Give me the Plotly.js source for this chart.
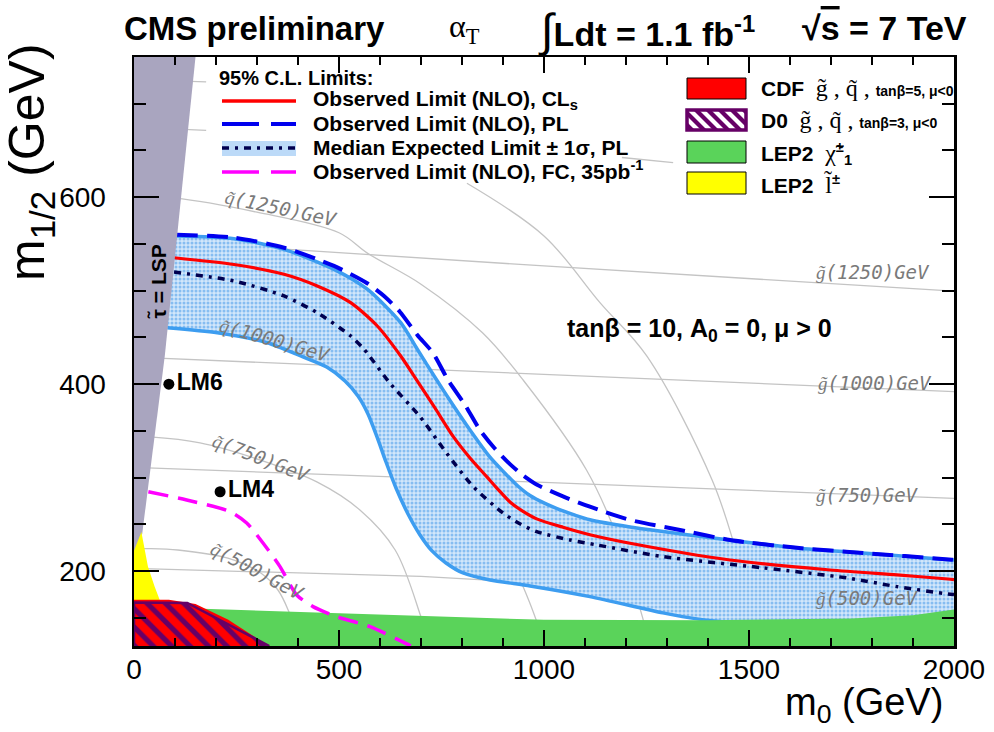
<!DOCTYPE html>
<html><head><meta charset="utf-8">
<script src="https://cdn.plot.ly/plotly-3.0.1.min.js"></script>
<style>html,body{margin:0;padding:0;background:#fff;}#chart{width:994px;height:732px;}</style>
</head><body><div id="chart"></div>
<script>
// ---------------- DATA (m0, m1/2 in GeV) ----------------
// iso-mass contours
const g500M0 = [0, 700, 1000, 2000],  g500M12 = [203, 194.5, 187, 178];
const g750M0 = [0, 700, 1000, 2000],  g750M12 = [311, 300, 295, 278];
const g1000M0 = [0, 1000, 2000],      g1000M12 = [429, 410.5, 392];
const g1250M0 = [0, 1000, 2000],      g1250M12 = [555, 526.5, 499.5];
const g1500M0 = [0, 176, null, 1190, 1315], g1500M12 = [675, 671.5, null, 642.5, 637];
const q500M0 = [0, 18, 107, 229, 310, 351, 376, 405];
const q500M12 = [225, 224.5, 222.7, 213.9, 197.8, 179.9, 158.5, 120];
const q750M0 = [0, 39, 161, 307, 446, 551, 637, 700, 722];
const q750M12 = [344, 343.6, 337.2, 319, 295.5, 265.5, 222.7, 151, 120];
const q1000M0 = [0, 78, 210, 356, 454, 576, 700, 800, 900, 960, 1003];
const q1000M12 = [472, 471, 463.4, 447.3, 428, 386, 330, 285, 228, 172, 120];
const q1250M0 = [0, 100, 300, 500, 570, 700, 850, 950, 1104, 1180, 1242, 1258];
const q1250M12 = [600, 599, 584, 562, 540, 507, 455, 404, 308, 235, 148, 120];
const q1500M0 = [100, 176, null, 812, 1000, 1137, 1251, 1410, 1470, 1519, 1539];
const q1500M12 = [724.5, 723.5, null, 615, 558.6, 487, 430, 297.6, 220, 148, 120];

// excluded / limit regions
const stauM0 = [0, 150, 75, 34, 20, 0];
const stauM12 = [750, 750, 430, 290, 240, 218];
const lepSleptonM0 = [0, 0, 18, 34, 50, 63];
const lepSleptonM12 = [169, 222, 242, 205, 184, 169];
const cdfM0 = [0, 0, 85, 150, 230, 300, 322];
const cdfM12 = [120, 169.5, 169.5, 165, 148, 128, 120];
const d0M0 = [0, 0, 130, 200, 260, 300, 330];
const d0M12 = [120, 166.5, 166, 150, 136, 127, 120];
const lepCharginoM0 = [0, 0, 150, 720, 1000, 1400, 1750, 1900, 2000, 2000];
const lepCharginoM12 = [120, 162, 160, 151.5, 148, 147.5, 149.5, 153, 159, 120];

// expected +-1 sigma band
const bandUpM0 = [101.7, 243.9, 365.9, 487.8, 569, 650.5, 691, 738.3, 778, 819.5, 868.3, 900, 934.1, 965.9, 1002.4, 1031.7, 1075.6, 1112.2, 1209.8, 1412.2, 1617.1, 1778, 1995, 2000];
const bandUpM12 = [558.6, 555.7, 544.3, 522.9, 501.6, 465.8, 437.4, 404.5, 377.8, 351.1, 322, 307, 292, 281, 272.5, 267, 260, 255, 247.3, 235.6, 224.9, 219.5, 212, 212];
const bandLoM0 = [81.2, 203.2, 325.1, 406.6, 470, 514.6, 546.3, 570.7, 592.7, 614.6, 639, 668.3, 697.6, 726.8, 761, 802.4, 868.3, 966, 1112, 1290, 1373, 1600, 2000];
const bandLoM12 = [460.5, 455.1, 444.4, 430.2, 418.4, 403.5, 387.4, 368.2, 343.6, 316.8, 289, 261.2, 238.8, 221.7, 208.8, 198.1, 190.6, 184.2, 172.8, 155.4, 149, 140, 135];
// limit curves
const expM0 = [97.6, 243.9, 365.9, 447, 528.5, 561, 624.4, 697.6, 762.7, 827.6, 900.7, 940, 982.2, 1063.4, 1129, 1290, 1534, 1739, 1861, 1985, 2000];
const expM12 = [520, 510.4, 494.4, 476.5, 451.6, 437.4, 401, 365.3, 326.2, 290.4, 262, 251, 242.3, 233.4, 228.1, 215.6, 203.6, 192.8, 183.5, 175.7, 175];
const clsM0 = [97.6, 243.9, 365.9, 447, 528.5, 593.4, 650.5, 689.5, 734, 778.8, 819.5, 860.2, 887.8, 917, 948.8, 982.2, 1046.3, 1112, 1209.8, 1453.7, 1697.6, 1861, 1985.4, 2000];
const clsM12 = [535.3, 528.1, 517.6, 505.1, 487.2, 462.3, 430.2, 404.5, 374.6, 343.9, 321.1, 301.1, 287.5, 274, 264, 256, 247, 239, 229.9, 212, 201.3, 196, 191.7, 191];
const plM0 = [104, 243.9, 365.9, 487.8, 567.6, 609.8, 648.8, 691, 729.3, 765.9, 807.3, 843.9, 880.5, 917, 948.8, 982.9, 1046.3, 1112, 1209.8, 1331.7, 1453.7, 1617, 1778, 1995, 2000];
const plM12 = [560, 556.7, 546, 526.5, 508.3, 494.4, 477.3, 452.7, 433.4, 404.5, 377.8, 351, 331, 314.5, 302.5, 292.5, 280, 269, 254.8, 244.1, 233.4, 225, 219.5, 212.3, 212];
const fcM0 = [35, 128.5, 234.1, 274.9, 314.6, 356.1, 396.8, 436.6, 494.4, 575.6, 665.1, 675];
const fcM12 = [285, 276.2, 263.7, 251.6, 230.2, 204.9, 174.6, 162.1, 151.4, 140.7, 122.2, 120];
// benchmark points
const lmNames = ['LM6', 'LM4'];
const lmM0 = [85, 210];
const lmM12 = [400, 285];

// ---------------- STYLE ----------------
const FONT = 'Liberation Sans, Arial, Helvetica, sans-serif';
const MONO = 'DejaVu Sans Mono, monospace';
const SERIF = 'Liberation Serif, Times New Roman, serif';
const L = 134, T = 57, W = 820, H = 589;
const px = v => (v - L) / W, py = v => (T + H - v) / H;

function iso(x, y, shape) {
  return {x: x, y: y, type: 'scatter', mode: 'lines', hoverinfo: 'skip', showlegend: false,
    line: {color: '#c4c4c4', width: 1.3, shape: shape || 'linear', smoothing: 1}};
}
function curve(x, y, color, width, dash) {
  return {x: x, y: y, type: 'scatter', mode: 'lines', hoverinfo: 'skip', showlegend: false,
    line: {color: color, width: width, dash: dash || 'solid', shape: 'spline', smoothing: 0.7}};
}
function area(x, y, color, extra) {
  return Object.assign({x: x, y: y, type: 'scatter', mode: 'lines', fill: 'toself', fillcolor: color,
    hoverinfo: 'skip', showlegend: false, line: {width: 0, color: color}}, extra || {});
}

const traces = [
  iso(g500M0, g500M12), iso(g750M0, g750M12), iso(g1000M0, g1000M12), iso(g1250M0, g1250M12), iso(g1500M0, g1500M12),
  iso(q500M0, q500M12, 'spline'), iso(q750M0, q750M12, 'spline'), iso(q1000M0, q1000M12, 'spline'),
  iso(q1250M0, q1250M12, 'spline'), iso(q1500M0, q1500M12, 'spline'),
  area(bandUpM0.concat(bandLoM0.slice().reverse()), bandUpM12.concat(bandLoM12.slice().reverse()), '#c3def8',
    {line: {width: 0, shape: 'spline', smoothing: 0.7},
     fillpattern: {shape: '.', size: 4, solidity: 0.45, fgcolor: '#86bdf1', bgcolor: '#d2e7fb', fillmode: 'replace'}}),
  curve(bandUpM0, bandUpM12, '#3d9df0', 3.5),
  curve(bandLoM0, bandLoM12, '#3d9df0', 3.5),
  curve(expM0, expM12, '#000050', 3.5, '7px,6px,3px,6px'),
  curve(clsM0, clsM12, '#ff0000', 3.2),
  curve(plM0, plM12, '#0000ee', 4, '21px,9px'),
  area(lepCharginoM0, lepCharginoM12, '#5ad35a'),
  curve(fcM0, fcM12, '#ff00ff', 3.5, '20px,10px'),
  area(stauM0, stauM12, '#a9a5bf'),
  area(lepSleptonM0, lepSleptonM12, '#ffff00'),
  area(cdfM0, cdfM12, '#ff0000'),
  area(d0M0, d0M12, 'rgba(0,0,0,0)', {line: {width: 2.5, color: '#660066'},
    fillpattern: {shape: '\\', size: 13, solidity: 0.4, fgcolor: '#660066', bgcolor: 'rgba(0,0,0,0)', fillmode: 'replace'}}),
  {x: lmM0, y: lmM12, text: lmNames, type: 'scatter', mode: 'markers+text', textposition: 'middle right',
   hoverinfo: 'skip', showlegend: false, cliponaxis: false,
   marker: {size: 11, color: 'black'}, textfont: {family: FONT, size: 23, color: 'black', weight: 'bold'}}
];

// ---------------- LEGEND (drawn as shapes + text) ----------------
function hline(x0, x1, y, color, width, dash) {
  return {type: 'line', xref: 'paper', yref: 'paper', layer: 'above', x0: px(x0), x1: px(x1), y0: py(y), y1: py(y),
    line: {color: color, width: width, dash: dash || 'solid'}};
}
function rect(x0, y0, x1, y1, fill, lc, lw) {
  return {type: 'rect', xref: 'paper', yref: 'paper', layer: 'above', x0: px(x0), x1: px(x1), y0: py(y1), y1: py(y0),
    fillcolor: fill, line: {color: lc || fill, width: lw === undefined ? 1 : lw}};
}
function clip(poly, xmin, xmax, ymin, ymax) {
  const tests = [
    [p => p[0] >= xmin, (a, b) => { const t = (xmin - a[0]) / (b[0] - a[0]); return [xmin, a[1] + t * (b[1] - a[1])]; }],
    [p => p[0] <= xmax, (a, b) => { const t = (xmax - a[0]) / (b[0] - a[0]); return [xmax, a[1] + t * (b[1] - a[1])]; }],
    [p => p[1] >= ymin, (a, b) => { const t = (ymin - a[1]) / (b[1] - a[1]); return [a[0] + t * (b[0] - a[0]), ymin]; }],
    [p => p[1] <= ymax, (a, b) => { const t = (ymax - a[1]) / (b[1] - a[1]); return [a[0] + t * (b[0] - a[0]), ymax]; }]
  ];
  let out = poly;
  tests.forEach(([inside, inter]) => {
    const inp = out; out = [];
    for (let i = 0; i < inp.length; i++) {
      const cur = inp[i], prev = inp[(i + inp.length - 1) % inp.length];
      if (inside(cur)) { if (!inside(prev)) out.push(inter(prev, cur)); out.push(cur); }
      else if (inside(prev)) out.push(inter(prev, cur));
    }
  });
  return out;
}
let stripePath = '';
for (let k = 0; k < 8; k++) {
  const a = 688 - 18 + k * 12;
  const poly = clip([[a, 111], [a + 6, 111], [a + 24, 129], [a + 18, 129]], 688, 745, 111, 129);
  if (poly.length > 2) stripePath += 'M' + poly.map(p => px(p[0]).toFixed(5) + ',' + py(p[1]).toFixed(5)).join('L') + 'Z';
}

const shapes = [
  hline(222, 296, 101, '#ff0000', 3.5),
  hline(222, 296, 124, '#0000ee', 4, '37px,12px'),
  rect(222, 141, 296, 156, '#bcdaf8', '#bcdaf8', 0),
  hline(222, 296, 148, '#000050', 3.5, '7px,6px,3px,6px'),
  hline(222, 296, 172, '#ff00ff', 3.5, '37px,12px'),
  rect(687, 78, 746, 99, '#ff0000', '#000000', 1),
  rect(687, 110, 746, 130, '#ffffff', '#660066', 0),
  {type: 'path', xref: 'paper', yref: 'paper', layer: 'above', path: stripePath, fillcolor: '#660066', line: {width: 0}},
  rect(687, 110, 746, 130, 'rgba(0,0,0,0)', '#660066', 3.5),
  rect(687, 141, 746, 163, '#5ad35a', '#000000', 1),
  rect(687, 172, 746, 194, '#ffff00', '#000000', 1)
];

function note(text, x, y, size, opts) {
  return Object.assign({text: text, xref: 'paper', yref: 'paper', x: px(x), y: py(y), xanchor: 'left', yanchor: 'middle',
    showarrow: false, font: {family: FONT, size: size, color: 'black', weight: 'bold'}}, opts || {});
}
function isoLabel(letter, rest, x, y, angle) {
  return {text: "<span style='font-family:Liberation Serif, serif'>" + letter + "̃</span>" + rest,
    xref: 'x', yref: 'y', x: x, y: y, xanchor: 'center', yanchor: 'middle', showarrow: false,
    textangle: angle, font: {family: MONO, size: 19, color: '#7a7a7a', style: 'italic'}};
}
const serifSpan = s => "<span style='font-family:Liberation Serif, serif;font-weight:normal;font-size:24px'>" + s + "</span>";
const smallSpan = s => "<span style='font-size:14px'>" + s + "</span>";

const annotations = [
  // header
  note('CMS preliminary', 122, 28, 33),
  note('α<sub>T</sub>', 447, 28, 32, {font: {family: SERIF, size: 32, color: 'black'}}),
  note("<span style='font-size:46px;font-weight:normal'>∫</span>Ldt = 1.1 fb<sup>-1</sup>", 536, 30, 34),
  note("√<span style='text-decoration:overline'>s</span> = 7 TeV", 800, 28, 34),
  // axis titles
  note('m<sub>0</sub> (GeV)', 945, 705, 38, {xanchor: 'right', font: {family: FONT, size: 38, color: 'black'}}),
  note('m<sub>1/2</sub> (GeV)', 30, 162, 50, {xanchor: 'center', textangle: -90, font: {family: FONT, size: 50, color: 'black'}}),
  // left legend
  note('95% C.L. Limits:', 217, 78, 20),
  note('Observed Limit (NLO), CL<sub>s</sub>', 311, 100, 21),
  note('Observed Limit (NLO), PL', 311, 124, 21),
  note('Median Expected Limit ± 1σ, PL', 311, 147, 21),
  note('Observed Limit (NLO), FC, 35pb<sup>-1</sup>', 311, 170, 21),
  // right legend
  note('CDF  ' + serifSpan('g̃ , q̃ ,') + ' ' + smallSpan('tanβ=5, μ&lt;0'), 759, 88, 21),
  note('D0  ' + serifSpan('g̃ , q̃ ,') + ' ' + smallSpan('tanβ=3, μ&lt;0'), 759, 120, 21),
  note('LEP2  ' + serifSpan('χ̃') + '<sup>±</sup><sub>1</sub>', 759, 153, 21),
  note('LEP2  ' + serifSpan('l̃') + '<sup>±</sup>', 759, 184, 21),
  // in-plot texts
  note('tanβ = 10, A<sub>0</sub> = 0, μ &gt; 0', 699, 330, 25, {xanchor: 'center'}),
  note('τ̃ = LSP', 158, 282, 21, {xanchor: 'center', textangle: -90}),
  isoLabel('q', '(1250)GeV', 358, 588, 12),
  isoLabel('q', '(1000)GeV', 344, 447, 16),
  isoLabel('q', '(750)GeV', 312, 321, 21),
  isoLabel('q', '(500)GeV', 302, 200, 28),
  isoLabel('g', '(1250)GeV', 1802, 520, 0),
  isoLabel('g', '(1000)GeV', 1807, 401, 0),
  isoLabel('g', '(750)GeV', 1788, 282, 0),
  isoLabel('g', '(500)GeV', 1788, 171, 0)
];

const axisCommon = {showgrid: false, zeroline: false, showline: true, linecolor: 'black', linewidth: 2.5,
  mirror: 'allticks', ticks: 'inside', tickcolor: 'black', tickwidth: 2,
  tickfont: {family: FONT, size: 28, color: 'black'}};
const layout = {
  width: 994, height: 732, margin: {l: L, r: 994 - L - W, t: T, b: 732 - T - H},
  paper_bgcolor: 'white', plot_bgcolor: 'white', showlegend: false, font: {family: FONT},
  xaxis: Object.assign({}, axisCommon, {range: [0, 2000], tick0: 0, dtick: 500, ticklen: 16, ticklabelstandoff: -3,
    minor: {ticks: 'inside', dtick: 100, ticklen: 8, tickwidth: 2, tickcolor: 'black', showgrid: false}}),
  yaxis: Object.assign({}, axisCommon, {range: [120, 750], tick0: 0, dtick: 200, ticklen: 25, ticklabelstandoff: 20,
    minor: {ticks: 'inside', dtick: 50, ticklen: 12, tickwidth: 2, tickcolor: 'black', showgrid: false}}),
  shapes: shapes, annotations: annotations
};
Plotly.newPlot('chart', traces, layout, {displayModeBar: false, staticPlot: true});
</script></body></html>
